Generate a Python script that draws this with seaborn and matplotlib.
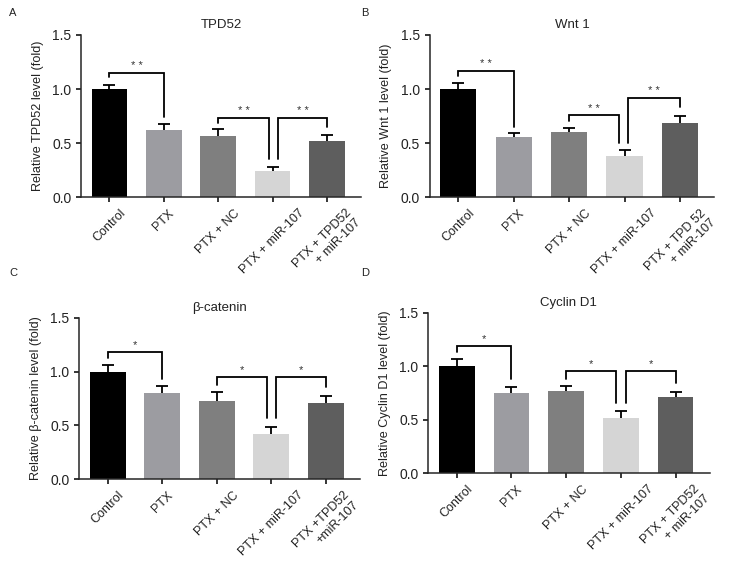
import matplotlib
matplotlib.use("Agg")
import matplotlib.pyplot as plt
import seaborn as sns
import numpy as np
import pandas as pd

# ---- data ----
groups = ["Control", "PTX", "PTX + NC", "PTX + miR-107", "PTX + TPD52"]
bar_colors = ["#000000", "#9c9ca1", "#7f7f7f", "#d5d5d5", "#5e5e5e"]

titles = ["TPD52", "Wnt 1", "β-catenin", "Cyclin D1"]
ylabels = ["Relative TPD52 level (fold)", "Relative Wnt 1 level (fold)",
           "Relative β-catenin level (fold)", "Relative Cyclin D1 level (fold)"]
letters = ["A", "B", "C", "D"]

tick_labels_a = ["Control", "PTX", "PTX + NC", "PTX + miR-107", "PTX + TPD52\n+ miR-107"]
tick_labels_b = ["Control", "PTX", "PTX + NC", "PTX + miR-107", "PTX + TPD 52\n+ miR-107"]
tick_labels_c = ["Control", "PTX", "PTX + NC", "PTX + miR-107", "PTX +TPD52\n+miR-107"]
tick_labels_d = ["Control", "PTX", "PTX + NC", "PTX + miR-107", "PTX + TPD52\n+ miR-107"]

tpd52_mean = [1.00, 0.62, 0.567, 0.246, 0.524]
tpd52_err = [0.04, 0.06, 0.06, 0.037, 0.055]
wnt1_mean = [1.00, 0.56, 0.60, 0.385, 0.684]
wnt1_err = [0.055, 0.03, 0.04, 0.052, 0.072]
bcat_mean = [1.00, 0.80, 0.73, 0.418, 0.705]
bcat_err = [0.058, 0.062, 0.083, 0.071, 0.071]
ccnd1_mean = [1.00, 0.747, 0.766, 0.52, 0.71]
ccnd1_err = [0.064, 0.063, 0.049, 0.065, 0.053]

# significance brackets: (left x, right x, bar height, left leg end, right leg end, label)
sig_a = [(0, 1, 1.152, 1.11, 0.745, "* *"),
         (2, 2.94, 0.736, 0.684, 0.351, "* *"),
         (3.1, 4, 0.736, 0.351, 0.652, "* *")]
sig_b = [(0, 1, 1.17, 1.12, 0.653, "* *"),
         (2, 2.9, 0.758, 0.708, 0.50, "* *"),
         (3.06, 4, 0.921, 0.50, 0.83, "* *")]
sig_c = [(0, 1, 1.185, 1.13, 0.93, "*"),
         (2, 2.93, 0.953, 0.875, 0.566, "*"),
         (3.08, 4, 0.953, 0.566, 0.86, "*")]
sig_d = [(0, 1, 1.19, 1.136, 0.884, "*"),
         (2, 2.92, 0.959, 0.884, 0.654, "*"),
         (3.09, 4, 0.959, 0.654, 0.84, "*")]

means = [tpd52_mean, wnt1_mean, bcat_mean, ccnd1_mean]
errs = [tpd52_err, wnt1_err, bcat_err, ccnd1_err]
tick_sets = [tick_labels_a, tick_labels_b, tick_labels_c, tick_labels_d]
sigs = [sig_a, sig_b, sig_c, sig_d]

# axes placement in pixels: left, top, width, bottom
W, H = 735, 567
boxes = [(81.2, 35.0, 279.6, 197.3),
         (429.5, 35.0, 284.8, 197.3),
         (79.4, 317.7, 280.1, 479.3),
         (428.3, 312.7, 281.2, 473.3)]
letter_pos = [(13, 13), (365, 13), (13, 273), (365, 273)]

sns.set_style("ticks")
plt.rcParams["font.family"] = ["Liberation Sans", "DejaVu Sans"]

fig = plt.figure(figsize=(W / 100, H / 100), dpi=100)

for i in range(4):
    left, top, width, bottom = boxes[i]
    ax = fig.add_axes([left / W, (H - bottom) / H, width / W, (bottom - top) / H])
    df = pd.DataFrame({"group": groups, "value": means[i]})
    sns.barplot(data=df, x="group", y="value", hue="group", palette=bar_colors,
                width=0.655, errorbar=None, saturation=1, linewidth=0,
                legend=False, ax=ax)
    eb = ax.errorbar(np.arange(len(groups)), means[i],
                     yerr=[np.zeros(len(groups)), errs[i]],
                     fmt="none", ecolor="black", elinewidth=1.3,
                     capsize=4.2, capthick=1.3, zorder=3)
    # upper half only, as in the original
    eb[1][0].set_visible(False)

    for x1, x2, y, e1, e2, lab in sigs[i]:
        ax.plot([x1, x1, x2, x2], [e1, y, y, e2], color="black", lw=1.3,
                solid_joinstyle="miter", clip_on=False)
        ax.text((x1 + x2) / 2, y + 0.015, lab, ha="center", va="bottom",
                fontsize=8, color="#333333")

    ax.set_xlim(-0.52, 4.62)
    ax.set_ylim(0, 1.5)
    ax.set_yticks([0, 0.5, 1.0, 1.5])
    ax.set_yticklabels(["0.0", "0.5", "1.0", "1.5"], fontsize=10, color="#222222")
    ax.set_xticks(range(len(groups)))
    ax.set_xticklabels(tick_sets[i], rotation=45, ha="center",
                       multialignment="right", fontsize=9, color="#222222")
    ax.set_xlabel("")
    ax.set_ylabel(ylabels[i], fontsize=9.1, labelpad=6, color="#222222")
    ax.set_title(titles[i], fontsize=9.5, pad=5, color="#222222")
    ax.tick_params(axis="both", width=1.1, length=3.6, color="black")
    for s in ["left", "bottom"]:
        ax.spines[s].set_linewidth(1.1)
    sns.despine(ax=ax)

    lx, ly = letter_pos[i]
    fig.text(lx / W, 1 - ly / H, letters[i], ha="center", va="center",
             fontsize=8, color="#222222")

fig.savefig("out.png", dpi=100, facecolor="white")
